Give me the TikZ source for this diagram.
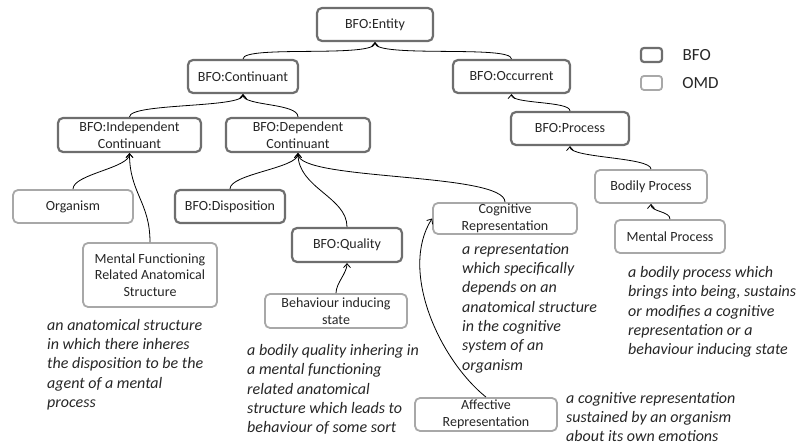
\documentclass[tikz,border=0pt]{standalone}
\usepackage{fontspec}
\setmainfont{Carlito}
\usepackage{xcolor}
\usetikzlibrary{arrows.meta}
\usetikzlibrary{positioning}
\definecolor{bfogray}{HTML}{6E6E6E}
\definecolor{omdgray}{HTML}{A8A8A8}
\definecolor{inkgray}{HTML}{262626}
\tikzstyle{bfobox} = [draw=bfogray, line width=2.2pt, fill=white, rectangle,
rounded corners=5pt, align=center, text=inkgray, inner sep=1pt,
font=\fontsize{14}{16.5}\selectfont]
\tikzstyle{omdbox} = [bfobox, draw=omdgray, line width=1.8pt]
\tikzstyle{gloss} = [anchor=west, align=left, inner sep=0pt, text=inkgray,
font=\fontsize{16}{19.3}\selectfont\itshape]
\tikzstyle{isa} = [draw=black, line width=0.8pt, -{Straight Barb[length=4pt,width=7pt]}]
\tikzstyle{legtext} = [font=\fontsize{17}{20}\selectfont, text=inkgray, anchor=west]

\begin{document}
\begin{tikzpicture}[x=1pt, y=-1pt]
        \useasboundingbox (0,0) rectangle (804,446);
        % BFO upper level
        \node [bfobox, minimum width=116pt, minimum height=33pt] (entity) at (375,24.5) {BFO:Entity};
        \node [bfobox, minimum width=110pt, minimum height=33pt] (cont) at (243,76.5) {BFO:Continuant};
        \node [bfobox, minimum width=117pt, minimum height=33pt] (occ) at (511.5,76.5) {BFO:Occurrent};
        \node [bfobox, minimum width=143pt, minimum height=34pt] (indep) at (129.5,135) {BFO:Independent\\Continuant};
        \node [bfobox, minimum width=144pt, minimum height=34pt] (dep) at (298,135) {BFO:Dependent\\Continuant};
        \node [bfobox, minimum width=118pt, minimum height=33pt] (proc) at (570,128.5) {BFO:Process};
        \node [bfobox, minimum width=110pt, minimum height=33pt] (disp) at (230,206.5) {BFO:Disposition};
        \node [bfobox, minimum width=110pt, minimum height=34pt] (qual) at (347,245) {BFO:Quality};
        % OMD classes
        \node [omdbox, minimum width=112pt, minimum height=33pt] (bodily) at (651,186.5) {Bodily Process};
        \node [omdbox, minimum width=110pt, minimum height=33pt] (mentproc) at (670,236.5) {Mental Process};
        \node [omdbox, minimum width=120pt, minimum height=33pt] (organism) at (73,206.5) {Organism};
        \node [omdbox, minimum width=144pt, minimum height=31pt] (cogrep) at (505,218.5) {Cognitive\\Representation};
        \node [omdbox, minimum width=134pt, minimum height=64pt] (mfras) at (150,275) {Mental Functioning\\Related Anatomical\\Structure};
        \node [omdbox, minimum width=142pt, minimum height=34pt] (behstate) at (336,311) {Behaviour inducing\\state};
        \node [omdbox, minimum width=142pt, minimum height=33pt] (affrep) at (486,414.5) {Affective\\Representation};
        % legend
        \node [bfobox, minimum width=21pt, minimum height=14pt, inner sep=0pt, rounded corners=3pt] (legbfo) at (651.5,55) {};
        \node [omdbox, minimum width=21pt, minimum height=14pt, inner sep=0pt, rounded corners=3pt] (legomd) at (651.5,83) {};
        \node [legtext, right=16pt of legbfo.east, anchor=west] (legbfotext) {BFO};
        \node [legtext, right=16pt of legomd.east, anchor=west] (legomdtext) {OMD};
        % definitions
        \node [gloss] (defmfras) at (47,364.5) {an anatomical structure\\in which there inheres\\the disposition to be the\\agent of a mental\\process};
        \node [gloss] (defbeh) at (247,389.5) {a bodily quality inhering in\\a mental functioning\\related anatomical\\structure which leads to\\behaviour of some sort};
        \node [gloss] (defcog) at (462,308) {a representation\\which specifically\\depends on an\\anatomical structure\\in the cognitive\\system of an\\organism};
        \node [gloss] (defproc) at (628,312) {a bodily process which\\brings into being, sustains\\or modifies a cognitive\\representation or a\\behaviour inducing state};
        \node [gloss] (defaff) at (566,417) {a cognitive representation\\sustained by an organism\\about its own emotions};
        % is-a links
        \draw [isa] (cont.north) .. controls +(0,-14) and +(0,16) .. (entity.south);
        \draw [isa] (occ.north) .. controls +(0,-14) and +(0,16) .. (entity.south);
        \draw [isa] (indep.north) .. controls +(0,-14) and +(0,14) .. (cont.south);
        \draw [isa] (dep.north) .. controls +(0,-14) and +(0,12) .. (cont.south);
        \draw [isa] (proc.north) .. controls +(0,-10) and +(0,10) .. (occ.south);
        \draw [isa] (bodily.north) .. controls +(0,-12) and +(0,12) .. (proc.south);
        \draw [isa] (mentproc.north) .. controls +(0,-8) and +(0,8) .. (bodily.south);
        \draw [isa] (organism.north) .. controls +(0,-15) and +(0,15) .. (indep.south);
        \draw [isa] (mfras.north) .. controls +(0,-40) and +(0,40) .. (indep.south);
        \draw [isa] (disp.north) .. controls +(0,-15) and +(0,15) .. (dep.south);
        \draw [isa] (qual.north) .. controls +(0,-30) and +(0,35) .. (dep.south);
        \draw [isa] (cogrep.north) .. controls +(0,-30) and +(0,28) .. (dep.south);
        \draw [isa] (affrep.north) .. controls +(-47,-38) and +(-33,52) .. (cogrep.west);
        \draw [isa] (behstate.north) .. controls +(0,-10) and +(0,10) .. (qual.south);
    \end{tikzpicture}
\end{document}
